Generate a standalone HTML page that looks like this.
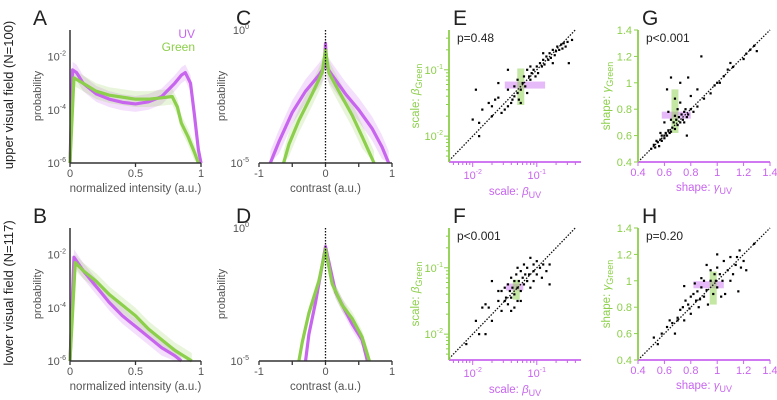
<!DOCTYPE html>
<html><head><meta charset="utf-8">
<style>
html,body{margin:0;padding:0;background:#fff;}
svg{display:block;font-family:"Liberation Sans",Arial,sans-serif;}
</style></head>
<body>
<svg id="fig" width="777" height="400" viewBox="0 0 777 400" xmlns="http://www.w3.org/2000/svg">
<text x="33" y="25" font-size="21" fill="#222">A</text>
<text x="236" y="25" font-size="21" fill="#222">C</text>
<text x="453" y="25" font-size="21" fill="#222">E</text>
<text x="642" y="25" font-size="21" fill="#222">G</text>
<text x="33" y="223" font-size="21" fill="#222">B</text>
<text x="236" y="223" font-size="21" fill="#222">D</text>
<text x="453" y="223" font-size="21" fill="#222">F</text>
<text x="642" y="223" font-size="21" fill="#222">H</text>
<text transform="translate(13,95) rotate(-90)" text-anchor="middle" font-size="13" fill="#222">upper visual field (N=100)</text>
<text transform="translate(13,293) rotate(-90)" text-anchor="middle" font-size="13" fill="#222">lower visual field (N=117)</text>
<text x="195" y="38" text-anchor="end" font-size="12" fill="#c865ef">UV</text>
<text x="195" y="51" text-anchor="end" font-size="12" fill="#8ccf4a">Green</text>
</svg>
<script>
// ---- data (log10 probability curves) ----
const aUVx=[0,0.02,0.05,0.1,0.2,0.3,0.4,0.5,0.6,0.7,0.8,0.85,0.88,0.92,0.95,0.98,1.0];
const aUVy=[-6,-2.5,-2.6,-3.0,-3.4,-3.6,-3.72,-3.78,-3.7,-3.5,-3.0,-2.7,-2.6,-3.0,-4.2,-5.5,-6];
const aGx=[0,0.03,0.1,0.2,0.3,0.5,0.6,0.7,0.78,0.82,0.85,0.9,0.95,0.98];
const aGy=[-6,-2.8,-3.0,-3.3,-3.45,-3.6,-3.6,-3.55,-3.5,-3.9,-4.5,-5.0,-5.6,-6];
const cUVx=[-0.83,-0.7,-0.5,-0.3,-0.1,-0.02,0,0.02,0.1,0.3,0.5,0.7,0.85,0.95];
const cUVy=[-5,-4.2,-3.1,-2.3,-1.7,-1.4,-0.5,-1.4,-1.7,-2.4,-3.0,-3.7,-4.4,-5];
const cGx=[-0.63,-0.55,-0.4,-0.2,-0.05,0,0.05,0.2,0.4,0.55,0.73];
const cGy=[-5,-4.3,-3.4,-2.4,-1.6,-0.75,-1.6,-2.3,-3.2,-4.0,-5];
const bUVx=[0,0.03,0.1,0.2,0.3,0.4,0.5,0.6,0.7,0.8,0.85];
const bUVy=[-6,-2.1,-2.6,-3.2,-3.8,-4.3,-4.7,-5.1,-5.5,-5.8,-6];
const bGx=[0,0.04,0.1,0.2,0.3,0.4,0.5,0.6,0.7,0.8,0.93];
const bGy=[-6,-2.3,-2.6,-3.0,-3.5,-3.9,-4.3,-4.8,-5.2,-5.6,-6];
const dUVx=[-0.3,-0.25,-0.15,0,0.15,0.4,0.55,0.63];
const dUVy=[-5,-4,-2.8,-0.7,-2.4,-3.6,-4.2,-5];
const dGx=[-0.4,-0.35,-0.25,-0.1,0,0.1,0.25,0.4,0.55,0.66];
const dGy=[-5,-4.3,-3.2,-2.0,-0.8,-2.1,-2.9,-3.4,-4.1,-5];
const bandA=0.3, bandC=0.45;
// ---- scatter data ----
const ePts=[[-2.0,-1.75],[-1.95,-1.3],[-1.9,-1.8],[-1.85,-1.6],[-1.75,-1.5],[-1.7,-1.55],[-1.65,-1.45],[-1.6,-1.2],[-1.55,-1.65],[-1.5,-1.6],[-1.45,-1.55],[-1.45,-1.0],[-1.4,-1.5],[-1.38,-1.45],[-1.35,-1.4],[-1.3,-1.35],[-1.3,-1.15],[-1.28,-1.45],[-1.25,-1.3],[-1.22,-1.2],[-1.2,-1.1],[-1.18,-1.25],[-1.15,-1.0],[-1.12,-1.1],[-1.1,-1.15],[-1.08,-1.05],[-1.05,-1.0],[-1.02,-1.1],[-1.0,-0.95],[-0.98,-1.05],[-0.95,-0.9],[-0.92,-0.95],[-0.9,-0.85],[-0.88,-0.92],[-0.85,-0.8],[-0.82,-0.85],[-0.8,-0.75],[-0.78,-0.82],[-0.75,-0.7],[-0.72,-0.78],[-0.7,-0.72],[-0.68,-0.65],[-0.65,-0.7],[-0.62,-0.62],[-0.6,-0.68],[-0.58,-0.6],[-0.55,-0.65],[-0.52,-0.58],[-0.5,-0.9],[-0.45,-0.55],[-1.6,-1.42],[-1.35,-1.25],[-1.25,-1.5],[-1.15,-1.35],[-1.45,-1.3],[-1.7,-1.7],[-1.9,-2.0],[-0.9,-0.75],[-0.75,-0.9],[-1.1,-0.95]];
const fPts=[[-2.1,-2.15],[-1.95,-1.8],[-1.9,-2.0],[-1.85,-1.6],[-1.8,-1.55],[-1.8,-2.0],[-1.75,-1.6],[-1.7,-1.8],[-1.7,-1.2],[-1.6,-1.5],[-1.55,-1.65],[-1.55,-1.35],[-1.5,-1.3],[-1.48,-1.45],[-1.45,-1.55],[-1.45,-1.25],[-1.42,-1.35],[-1.4,-1.15],[-1.4,-1.45],[-1.38,-1.3],[-1.35,-1.2],[-1.35,-1.4],[-1.32,-1.1],[-1.3,-1.3],[-1.3,-1.5],[-1.28,-1.2],[-1.25,-1.05],[-1.25,-1.35],[-1.22,-1.15],[-1.2,-1.25],[-1.2,-0.95],[-1.18,-1.1],[-1.15,-1.2],[-1.15,-1.0],[-1.12,-1.1],[-1.1,-0.85],[-1.1,-1.3],[-1.05,-1.05],[-1.05,-0.95],[-1.0,-1.1],[-1.0,-0.9],[-0.95,-1.0],[-0.92,-1.15],[-0.9,-0.95],[-0.85,-1.05],[-0.8,-1.25],[-0.8,-0.95],[-1.35,-1.6],[-1.4,-1.65],[-1.6,-1.35],[-1.3,-1.0],[-1.25,-1.5],[-1.5,-1.5],[-1.05,-1.2]];
const gPts=[[0.5,0.5],[0.52,0.53],[0.53,0.51],[0.55,0.55],[0.56,0.52],[0.57,0.57],[0.58,0.56],[0.6,0.6],[0.6,0.58],[0.61,0.62],[0.62,0.6],[0.63,0.64],[0.64,0.62],[0.65,0.63],[0.65,0.72],[0.66,0.66],[0.67,0.7],[0.68,0.65],[0.68,0.75],[0.69,0.72],[0.7,0.68],[0.7,0.8],[0.71,0.74],[0.72,0.7],[0.72,0.85],[0.73,0.76],[0.74,0.72],[0.75,0.78],[0.75,0.7],[0.76,0.8],[0.77,0.74],[0.78,0.76],[0.8,0.8],[0.8,0.9],[0.82,0.78],[0.85,0.82],[0.88,1.2],[0.9,0.88],[0.95,0.92],[0.98,0.98],[1.0,1.0],[1.02,1.0],[1.05,1.05],[1.08,1.1],[1.1,1.15],[1.12,1.12],[1.2,1.18],[1.22,1.22],[1.25,1.25],[1.28,1.28],[1.3,1.24],[0.62,0.95],[0.65,1.04],[0.72,1.0],[0.78,1.04],[0.68,0.88],[0.6,0.7],[0.57,0.62],[0.63,0.78],[0.77,0.6],[0.85,0.95],[0.58,0.6],[0.54,0.56]];
const hPts=[[0.52,0.57],[0.55,0.52],[0.58,0.6],[0.62,0.65],[0.64,0.7],[0.66,0.68],[0.68,0.6],[0.7,0.72],[0.72,0.78],[0.74,0.8],[0.75,0.7],[0.76,0.85],[0.78,0.82],[0.8,0.75],[0.8,0.88],[0.82,0.9],[0.83,0.98],[0.84,0.85],[0.85,0.92],[0.86,0.8],[0.88,0.95],[0.9,0.88],[0.9,1.0],[0.92,0.93],[0.93,0.82],[0.95,1.0],[0.95,1.08],[0.97,0.9],[0.98,1.05],[0.99,1.0],[1.0,0.95],[1.0,1.1],[1.02,1.05],[1.03,0.88],[1.04,1.0],[1.05,1.15],[1.06,0.9],[1.08,1.08],[1.1,1.18],[1.1,1.0],[1.12,1.05],[1.14,1.12],[1.15,1.18],[1.16,0.92],[1.17,1.23],[1.18,1.1],[1.2,1.15],[1.22,1.08],[0.75,0.96],[0.88,1.02],[0.92,1.12],[1.0,1.2],[0.7,0.7],[0.79,0.79],[0.87,0.86],[1.28,1.28]];
// error bars: [xLo,xHi,yMid] for UV ; [xMid,yLo,yHi] for Green
const eUV=[-1.5,-0.87,-1.23], eG=[-1.25,-1.53,-0.98];
const fUV=[-1.48,-1.21,-1.29], fG=[-1.32,-1.48,-1.18];
const gUV=[0.58,0.8,0.755], gG=[0.68,0.62,0.95];
const hUV=[0.82,1.05,0.97], hG=[0.97,0.82,1.07];
const pTexts=['p=0.48','p<0.001','p<0.001','p=0.20'];

const NS='http://www.w3.org/2000/svg', svg=document.getElementById('fig');
const PU='#c865ef', GR='#8ccf4a', AX='#333';
function mk(tag,attrs,txt){const e=document.createElementNS(NS,tag);for(const k in attrs)e.setAttribute(k,attrs[k]);if(txt!==undefined)e.textContent=txt;svg.appendChild(e);return e;}
function scale(d0,d1,p0,p1){return v=>p0+(v-d0)/(d1-d0)*(p1-p0);}
function supTick(x,y,exp,anchor,col){const t=mk('text',{x:x,y:y,'font-size':11,fill:col,'text-anchor':anchor});
 
 
 t.innerHTML='10<tspan dy="-5" font-size="7">'+exp+'</tspan>';return t;}

function probPanel(off,xmin,xmax,px0,px1,ymin,ymax,yticks,xticks,xlabels,xtitle,series,showYaxis,dotted,name){
 const sx=scale(xmin,xmax,px0,px1), sy=scale(ymax,ymin,30+off,163+off);
 series.forEach(s=>{
  const up=s.x.map((v,i)=>sx(v)+','+sy(Math.min(ymax,s.y[i]+s.b))).join(' ');
  const lo=s.x.slice().reverse().map((v,i)=>{const j=s.x.length-1-i;return sx(v)+','+sy(Math.max(ymin,s.y[j]-s.b));}).join(' ');
  const p=mk('polygon',{points:up+' '+lo,fill:s.c,'fill-opacity':0.2});
  
  
 });
 series.forEach(s=>{
  const l=mk('polyline',{points:s.x.map((v,i)=>sx(v)+','+sy(s.y[i])).join(' '),fill:'none',stroke:s.c,'stroke-width':3.2,'stroke-linejoin':'round'});
  
  
 });
 if(dotted){const d=mk('line',{x1:sx(0),x2:sx(0),y1:sy(ymax),y2:sy(ymin),stroke:'#111','stroke-width':1.3,'stroke-dasharray':'1.5,1.5'});
  
  }
 const xa=mk('line',{x1:px0,x2:px1,y1:sy(ymin),y2:sy(ymin),stroke:AX,'stroke-width':1.5});
 
 
 if(showYaxis){const ya=mk('line',{x1:px0,x2:px0,y1:sy(ymax),y2:sy(ymin),stroke:AX,'stroke-width':1.5});
  
  }
 xticks.forEach((v,i)=>{const t=mk('line',{x1:sx(v),x2:sx(v),y1:sy(ymin),y2:sy(ymin)+4,stroke:AX,'stroke-width':1.3});
  
  
  const lb=mk('text',{x:sx(v),y:sy(ymin)+14,'font-size':11,fill:'#555','text-anchor':'middle'},xlabels[i]);
  
  });
 yticks.forEach(v=>{supTick(px0-(showYaxis?4:10),sy(v)+4,v,'end','#555');});
 const xt=mk('text',{x:(px0+px1)/2,y:sy(ymin)+29,'font-size':11.5,fill:'#555','text-anchor':'middle'},xtitle);
 
 
 const yt=mk('text',{transform:'translate('+(px0-(showYaxis?29:34))+','+(96+off)+') rotate(-90)','font-size':11,fill:'#555','text-anchor':'middle'},'probability');
 
 
}
probPanel(0,0,1,70,201,-6,-1,[-2,-4,-6],[0,0.5,1],['0','0.5','1'],'normalized intensity (a.u.)',
 [{n:'uv',x:aUVx,y:aUVy,c:PU,b:bandA},{n:'green',x:aGx,y:aGy,c:GR,b:bandA}],true,false,'panel-a');
probPanel(198,0,1,70,201,-6,-1,[-2,-4,-6],[0,0.5,1],['0','0.5','1'],'normalized intensity (a.u.)',
 [{n:'uv',x:bUVx,y:bUVy,c:PU,b:bandA},{n:'green',x:bGx,y:bGy,c:GR,b:bandA}],true,false,'panel-b');
probPanel(0,-1,1,259,392,-5,0,[0,-5],[-1,-0.5,0,0.5,1],['-1','','0','','1'],'contrast (a.u.)',
 [{n:'uv',x:cUVx,y:cUVy,c:PU,b:bandC},{n:'green',x:cGx,y:cGy,c:GR,b:bandC}],false,true,'panel-c');
probPanel(198,-1,1,259,392,-5,0,[0,-5],[-1,-0.5,0,0.5,1],['-1','','0','','1'],'contrast (a.u.)',
 [{n:'uv',x:dUVx,y:dUVy,c:PU,b:0.25},{n:'green',x:dGx,y:dGy,c:GR,b:0.25}],false,true,'panel-d');

function scatterPanel(off,log,px0,px1,xmin,xmax,ymin,ymax,pts,uv,gb,ptxt,name){
 const sx=scale(xmin,xmax,px0,px1), sy=scale(ymin,ymax,162+off,30+off);
 const by=sy(ymin);
 const r1=mk('rect',{x:sx(uv[0]),y:sy(uv[2])-3.5,width:sx(uv[1])-sx(uv[0]),height:7,fill:PU,'fill-opacity':0.45});
 
 
 const r2=mk('rect',{x:sx(gb[0])-3.5,y:sy(gb[2]),width:7,height:sy(gb[1])-sy(gb[2]),fill:GR,'fill-opacity':0.5});
 
 
 const lo=Math.max(xmin,ymin), hi=Math.min(xmax,ymax);
 const dl=mk('line',{x1:sx(lo),y1:sy(lo),x2:sx(hi),y2:sy(hi),stroke:'#111','stroke-width':1.3,'stroke-dasharray':'1.5,1.5'});
 
 
 pts.forEach(p=>{const c=mk('rect',{x:sx(p[0])-1.1,y:sy(p[1])-1.1,width:2.2,height:2.2,fill:'#000'});
  
  });
 const xa=mk('line',{x1:px0,x2:px1,y1:by,y2:by,stroke:PU,'stroke-width':1.8});
 
 
 const ya=mk('line',{x1:px0,x2:px0,y1:sy(ymax),y2:by,stroke:GR,'stroke-width':1.8});
 
 
 if(log){
  for(let d=-3;d<=0;d++)for(let m=1;m<10;m++){const v=d+Math.log10(m);
   if(v>=xmin&&v<=xmax){const t=mk('line',{x1:sx(v),x2:sx(v),y1:by,y2:by+(m==1?5:3),stroke:PU,'stroke-width':1});
    
    }
   if(v>=ymin&&v<=ymax){const t=mk('line',{x1:px0,x2:px0-(m==1?5:3),y1:sy(v),y2:sy(v),stroke:GR,'stroke-width':1});
    
    }}
  [-2,-1].forEach(v=>{supTick(sx(v),by+17,v,'middle',PU);supTick(px0-6,sy(v)+4,v,'end',GR);});
 } else {
  [0.4,0.6,0.8,1,1.2,1.4].forEach(v=>{
   const t=mk('line',{x1:sx(v),x2:sx(v),y1:by,y2:by+4,stroke:PU,'stroke-width':1});
   
   
   const t2=mk('line',{x1:px0,x2:px0-4,y1:sy(v),y2:sy(v),stroke:GR,'stroke-width':1});
   
   
   const l=mk('text',{x:sx(v),y:by+14,'font-size':11,fill:PU,'text-anchor':'middle'},String(v));
   
   
   const l2=mk('text',{x:px0-6,y:sy(v)+4,'font-size':11,fill:GR,'text-anchor':'end'},String(v));
   
   });
 }
 const sym=log?'β':'γ', word=log?'scale: ':'shape: ';
 const xt=mk('text',{x:(px0+px1)/2,y:by+(log?33:29),'font-size':11.5,fill:PU,'text-anchor':'middle'});
 
 
 xt.innerHTML=word+'<tspan font-style="italic">'+sym+'</tspan><tspan dy="3" font-size="9">UV</tspan>';
 const yt=mk('text',{transform:'translate('+(px0-(log?30:28))+','+(96+off)+') rotate(-90)','font-size':11.5,fill:GR,'text-anchor':'middle'});
 
 
 yt.innerHTML=word+'<tspan font-style="italic">'+sym+'</tspan><tspan dy="3" font-size="9">Green</tspan>';
 const pt=mk('text',{x:px0+8,y:off+42,'font-size':12,fill:'#222'},ptxt);
 
 
}
scatterPanel(0,true,449,581,-2.37,-0.31,-2.39,-0.4,ePts,eUV,eG,pTexts[0],'panel-e');
scatterPanel(198,true,449,581,-2.37,-0.31,-2.39,-0.4,fPts,fUV,fG,pTexts[1],'panel-f');
scatterPanel(0,false,638,770,0.4,1.4,0.4,1.4,gPts,gUV,gG,pTexts[2],'panel-g');
scatterPanel(198,false,638,770,0.4,1.4,0.4,1.4,hPts,hUV,hG,pTexts[3],'panel-h');
</script>
</body></html>
